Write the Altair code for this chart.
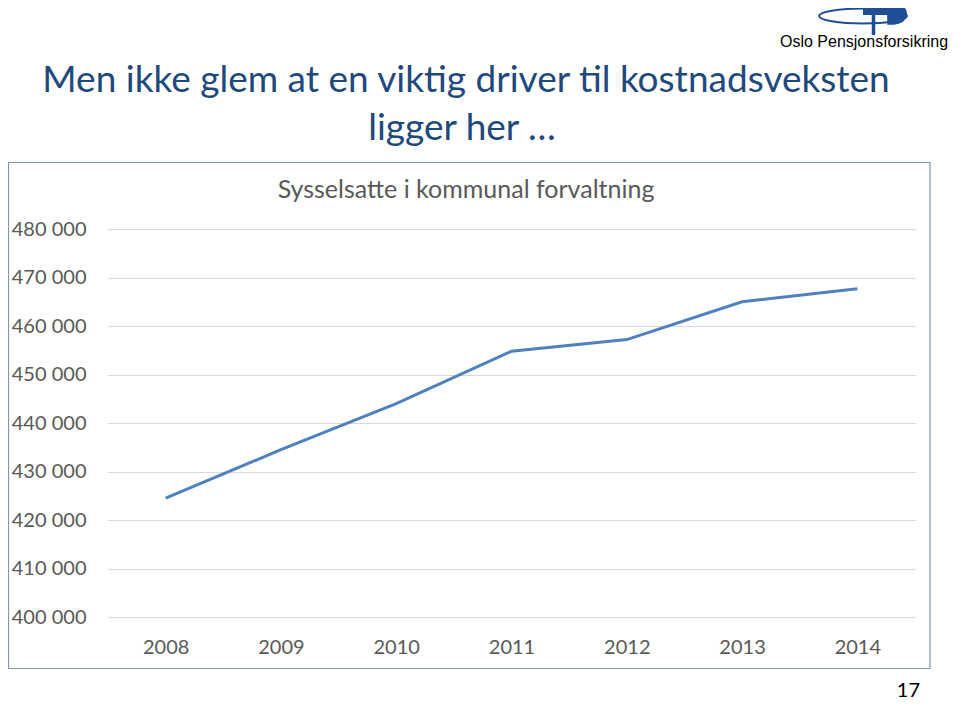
import altair as alt
import pandas as pd

# ---- data ----
years = ["2008", "2009", "2010", "2011", "2012", "2013", "2014"]
employed = [424500, 434500, 444000, 454800, 457200, 465000, 467700]
y_ticks = [400000, 410000, 420000, 430000, 440000, 450000, 460000, 470000, 480000]

title_line1 = "Men ikke glem at en viktig driver til kostnadsveksten"
title_line2 = "ligger her …"
chart_title = "Sysselsatte i kommunal forvaltning"
logo_text = "Oslo Pensjonsforsikring"
page_number = "17"

df = pd.DataFrame({"year": years, "value": employed})

# plot area origin on the page (screen px)
OX, OY = 108, 229
W, H = 807, 388
TOTAL_W, TOTAL_H = 944, 694
FONT = "Lato"
GREY = "#595959"
TITLE_BLUE = "#1F497D"
LOGO_BLUE = "#1F4E96"


def sx(v):
    return v - OX


def sy(v):
    return v - OY


one = alt.Data(values=[{}])

line = alt.Chart(df).mark_line(color="#4F81BD", strokeWidth=3).encode(
    x=alt.X(
        "year:O",
        sort=years,
        scale=alt.Scale(type="point", padding=0.5),
        axis=alt.Axis(
            title=None, labelAngle=0, labelFont=FONT, labelFontSize=20,
            labelColor=GREY, ticks=False, domain=False, grid=False,
            labelPadding=20,
        ),
    ),
    y=alt.Y(
        "value:Q",
        scale=alt.Scale(domain=[400000, 480000], nice=False, zero=False),
        axis=alt.Axis(
            title=None, values=y_ticks, labelFont=FONT, labelFontSize=20,
            labelColor=GREY, ticks=False, domain=False, grid=True,
            gridColor="#D9D9D9", gridWidth=1, labelPadding=22,
            labelExpr="replace(format(datum.value, ',d'), ',', ' ')",
        ),
    ),
)

border = alt.Chart(one).mark_rect(
    fill=None, stroke="#8497B0", strokeWidth=1.2
).encode(
    x=alt.value(sx(8.5)), x2=alt.value(sx(930)),
    y=alt.value(sy(162.5)), y2=alt.value(sy(668.5)),
)


def text_layer(txt, x, y, size, color, align="center", font=FONT):
    return alt.Chart(one).mark_text(
        text=txt, font=font, fontSize=size, color=color,
        align=align, baseline="alphabetic",
    ).encode(x=alt.value(sx(x)), y=alt.value(sy(y)))


t1 = text_layer(title_line1, 466, 92, 37, TITLE_BLUE)
t2 = text_layer(title_line2, 462, 140, 37, TITLE_BLUE)
ct = text_layer(chart_title, 466, 198, 25, GREY)
pg = text_layer(page_number, 920, 697, 20, "#000000", align="right")
lt = text_layer(logo_text, 780, 47, 16, "#000000", align="left", font="Liberation Sans")

ellipse = alt.Chart(one).mark_point(
    shape="M -1 0 A 1 0.17 0 1 1 1 0 A 1 0.17 0 1 1 -1 0 Z",
    size=88 * 88, filled=False, stroke=LOGO_BLUE, strokeWidth=2, opacity=1,
).encode(x=alt.value(sx(863)), y=alt.value(sy(16)))

wedge = alt.Chart(one).mark_point(
    shape="M -1 -0.4 L 0.7 -0.45 Q 1.05 -0.4 1.0 0.0 Q 0.9 0.35 0.4 0.4 L 0.1 0.4 L 0.1 -0.05 L -1 -0.05 Z",
    size=44 * 44, filled=True, fill=LOGO_BLUE, stroke=None, opacity=1,
).encode(x=alt.value(sx(885)), y=alt.value(sy(16)))

stem = alt.Chart(one).mark_rule(color=LOGO_BLUE, strokeWidth=3.5).encode(
    x=alt.value(sx(873.5)), y=alt.value(sy(10)), y2=alt.value(sy(35)),
)

chart = alt.layer(
    border, line, t1, t2, ct, pg, ellipse, wedge, stem, lt
).properties(
    width=W, height=H,
    background="white",
    padding={"left": OX - 8, "top": OY - 8,
             "right": TOTAL_W - (OX - 8) - W, "bottom": TOTAL_H - (OY - 8) - H},
    autosize=alt.AutoSizeParams(type="none"),
).configure_view(strokeWidth=0)

chart.save("out.html", embed_options={"renderer": "svg", "actions": False})
